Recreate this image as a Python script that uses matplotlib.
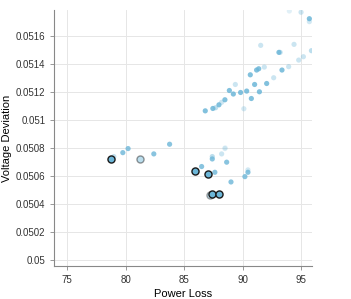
import matplotlib.pyplot as plt

plt.rcParams.update({
    'font.family': 'Liberation Sans',
    'font.size': 7,
})

# all candidate solutions: power loss, voltage deviation, opacity
POWER_LOSS = [
    78.98, 79.75, 80.2, 82.4, 83.75, 86.49, 87.62, 87.40, 87.40, 88.2, 88.48,
    88.63, 89.0, 90.19, 90.45, 90.45,
    86.8, 87.45, 87.68, 87.97, 88.48, 88.2, 88.86, 89.2, 89.37, 89.82, 90.1,
    90.34, 90.65, 90.74, 91.02, 91.19, 91.37, 91.43, 91.54, 91.85, 92.05,
    92.65, 93.1, 93.36, 93.93, 94.39, 93.99, 94.99, 94.79, 95.19, 95.7,
    95.88, 88.5, 93.2, 95.7,
]
VOLT_DEV = [
    0.050738, 0.050766, 0.050795, 0.050757, 0.050826, 0.050667, 0.050626,
    0.050738, 0.050721, 0.050757, 0.050795, 0.050698, 0.050557, 0.050595,
    0.050626, 0.050643,
    0.051064, 0.051081, 0.051086, 0.051107, 0.051143, 0.051125, 0.051209,
    0.051184, 0.051252, 0.051195, 0.051079, 0.051205, 0.051321, 0.051152,
    0.051252, 0.051355, 0.051364, 0.051200, 0.051531, 0.051376, 0.051259,
    0.051300, 0.051481, 0.051355, 0.051379, 0.051538, 0.051776, 0.051767,
    0.051426, 0.05145, 0.051721, 0.051493, 0.050800, 0.051481, 0.051700,
]
ALPHA = [
    0.4, 0.8, 0.8, 0.8, 0.8, 0.8, 0.8, 0.45, 0.8, 0.35, 0.2, 0.8, 0.8, 0.8,
    0.8, 0.3,
    0.85, 0.85, 0.45, 0.85, 0.85, 0.35, 0.85, 0.85, 0.35, 0.85, 0.3,
    0.85, 0.85, 0.85, 0.85, 0.85, 0.85, 0.85, 0.35, 0.35, 0.85,
    0.35, 0.85, 0.85, 0.35, 0.35, 0.2, 0.35, 0.35, 0.35, 0.85,
    0.45, 0.2, 0.4, 0.3,
]

# pareto front (outlined)
FRONT_LOSS = [78.72, 81.26, 85.89, 87.03, 87.2, 87.34, 87.97]
FRONT_DEV = [0.050721, 0.050721, 0.050636, 0.050614, 0.050466, 0.050471, 0.050474]
FRONT_ALPHA = [1.0, 0.45, 1.0, 1.0, 0.4, 1.0, 1.0]

COLOR = '#6cb6d8'

fig, ax = plt.subplots(figsize=(3.51, 2.99), dpi=100)
fig.subplots_adjust(left=0.155, right=0.888, top=0.967, bottom=0.11)

for x, y, a in zip(POWER_LOSS, VOLT_DEV, ALPHA):
    ax.scatter(x, y, s=14, color=COLOR, alpha=a, edgecolors='none', zorder=2)
for x, y, a in zip(FRONT_LOSS, FRONT_DEV, FRONT_ALPHA):
    ax.scatter(x, y, s=26, color=COLOR, alpha=a, edgecolors='#1a1a1a',
               linewidths=1.0, zorder=3)

ax.set_xlim(73.9, 95.9)
ax.set_ylim(0.049957, 0.051784)
ax.set_xticks([75, 80, 85, 90, 95])
ax.set_yticks([0.05, 0.0502, 0.0504, 0.0506, 0.0508, 0.051, 0.0512, 0.0514, 0.0516])
ax.set_yticklabels(['0.05', '0.0502', '0.0504', '0.0506', '0.0508', '0.051',
                    '0.0512', '0.0514', '0.0516'])
ax.set_xlabel('Power Loss', fontsize=8, labelpad=3)
ax.set_ylabel('Voltage Deviation', fontsize=8, labelpad=3)

ax.grid(True, color='#e6e6e6', linewidth=0.7)
ax.set_axisbelow(True)
for s in ['top', 'right']:
    ax.spines[s].set_visible(False)
for s in ['left', 'bottom']:
    ax.spines[s].set_color('#888888')
    ax.spines[s].set_linewidth(0.8)
ax.tick_params(colors='#333333', length=3, width=0.6, labelsize=7)
ax.tick_params(axis='both', color='#888888')

fig.savefig('out.png', dpi=100)
